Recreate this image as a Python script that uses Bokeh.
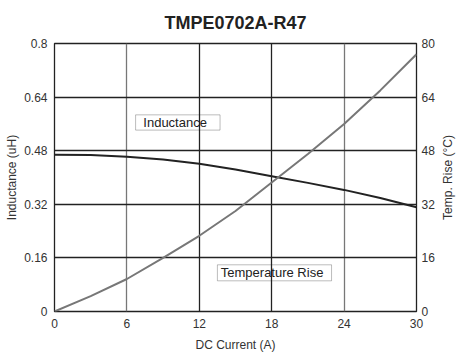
import math
from bokeh.plotting import figure
from bokeh.models import Range1d, LinearAxis, FixedTicker, Grid, Label, BoxAnnotation
from bokeh.embed import file_html
from bokeh.resources import INLINE

# ---- data ----
current = [0, 3, 6, 9, 12, 15, 18, 21, 24, 27, 30]
inductance = [0.468, 0.467, 0.462, 0.454, 0.441, 0.424, 0.404, 0.384, 0.363, 0.339, 0.311]
temp_rise = [0, 4.6, 9.7, 16.0, 22.6, 30.0, 38.5, 47.0, 56.0, 66.0, 76.8]

x_ticks = [0, 6, 12, 18, 24, 30]
y_ticks = [0, 0.16, 0.32, 0.48, 0.64, 0.8]
y_tick_labels = ["0", "0.16", "0.32", "0.48", "0.64", "0.8"]
t_ticks = [0, 16, 32, 48, 64, 80]
x_grid_light = [6, 24]
x_grid_dark = [12, 18]
y_grid = [0.16, 0.32, 0.48, 0.64]

title = "TMPE0702A-R47"
x_label = "DC Current (A)"
y_label = "Inductance (uH)"
t_label = "Temp. Rise (°C)"
label_ind = "Inductance"
label_temp = "Temperature Rise"

FONT = "Liberation Sans"
DARK = "#222222"
GRAY = "#777777"

W, H = 456, 355
ML, MR, MT, MB = 54, 40, 43, 44
FW, FH = W - ML - MR, H - MT - MB

p = figure(width=W, height=H, x_range=Range1d(0, 30), y_range=Range1d(0, 0.8),
           output_backend="svg", toolbar_location=None,
           min_border_left=ML, min_border_right=MR, min_border_top=MT, min_border_bottom=MB)
p.extra_y_ranges = {"temp": Range1d(0, 80)}

p.title.text = title
p.title.align = "center"
p.title.text_font = FONT
p.title.text_font_size = "18px"
p.title.text_font_style = "bold"
p.title.text_color = DARK
p.title.standoff = 21

p.outline_line_color = DARK
p.outline_line_width = 1.3
p.outline_line_alpha = 1.0
p.background_fill_color = "white"
p.border_fill_color = "white"

# grids
p.xgrid.visible = False
p.ygrid.visible = False
p.add_layout(Grid(dimension=0, ticker=FixedTicker(ticks=x_grid_light), grid_line_color=GRAY, grid_line_width=1.3))
p.add_layout(Grid(dimension=0, ticker=FixedTicker(ticks=x_grid_dark), grid_line_color=DARK, grid_line_width=1.3))
p.add_layout(Grid(dimension=1, ticker=FixedTicker(ticks=y_grid), grid_line_color=DARK, grid_line_width=1.3))


def style_axis(ax, label, standoff, label_standoff):
    if label:
        ax.axis_label = label
    ax.axis_line_color = None
    ax.major_tick_line_color = None
    ax.minor_tick_line_color = None
    ax.major_tick_out = 0
    ax.major_tick_in = 0
    ax.minor_tick_out = 0
    ax.major_label_standoff = standoff
    ax.axis_label_standoff = label_standoff
    ax.major_label_text_font = FONT
    ax.major_label_text_font_size = "12px"
    ax.major_label_text_color = "#333333"
    ax.axis_label_text_font = FONT
    ax.axis_label_text_font_size = "12px"
    ax.axis_label_text_font_style = "normal"
    ax.axis_label_text_color = "#333333"


xa = p.xaxis[0]
xa.ticker = FixedTicker(ticks=x_ticks)
style_axis(xa, x_label, 7, 7)

ya = p.yaxis[0]
ya.ticker = FixedTicker(ticks=y_ticks)
ya.major_label_overrides = {t: s for t, s in zip(y_ticks, y_tick_labels)}
style_axis(ya, y_label, 7, 2)

ra = LinearAxis(y_range_name="temp", ticker=FixedTicker(ticks=t_ticks))
style_axis(ra, None, 5, 0)
ra.major_label_orientation = "horizontal"
p.add_layout(ra, "right")

# right axis title, reading bottom-to-top like the left one
p.add_layout(Label(x=10, y=FH / 2, x_units="screen", y_units="screen", angle=math.pi / 2,
                   text=t_label, text_font=FONT, text_font_size="12px", text_color="#333333",
                   text_align="center", text_baseline="middle"), "right")

# curves
p.line(current, inductance, line_color=DARK, line_width=2)
p.line(current, temp_rise, y_range_name="temp", line_color=GRAY, line_width=2)

# label boxes
p.add_layout(BoxAnnotation(left=6.72, right=13.72, bottom=0.5415, top=0.587,
                           fill_alpha=0, line_color=DARK, line_width=1))
p.add_layout(Label(x=7.36, y=0.564, text=label_ind, text_font=FONT, text_font_size="13px",
                   text_color=DARK, text_baseline="middle", text_align="left"))
p.add_layout(BoxAnnotation(left=13.5, right=22.96, bottom=0.0916, top=0.1394,
                           fill_alpha=0, line_color=DARK, line_width=1))
p.add_layout(Label(x=13.78, y=0.1155, text=label_temp, text_font=FONT, text_font_size="13px",
                   text_color=DARK, text_baseline="middle", text_align="left"))

open("out.html", "w").write(file_html(p, INLINE))
